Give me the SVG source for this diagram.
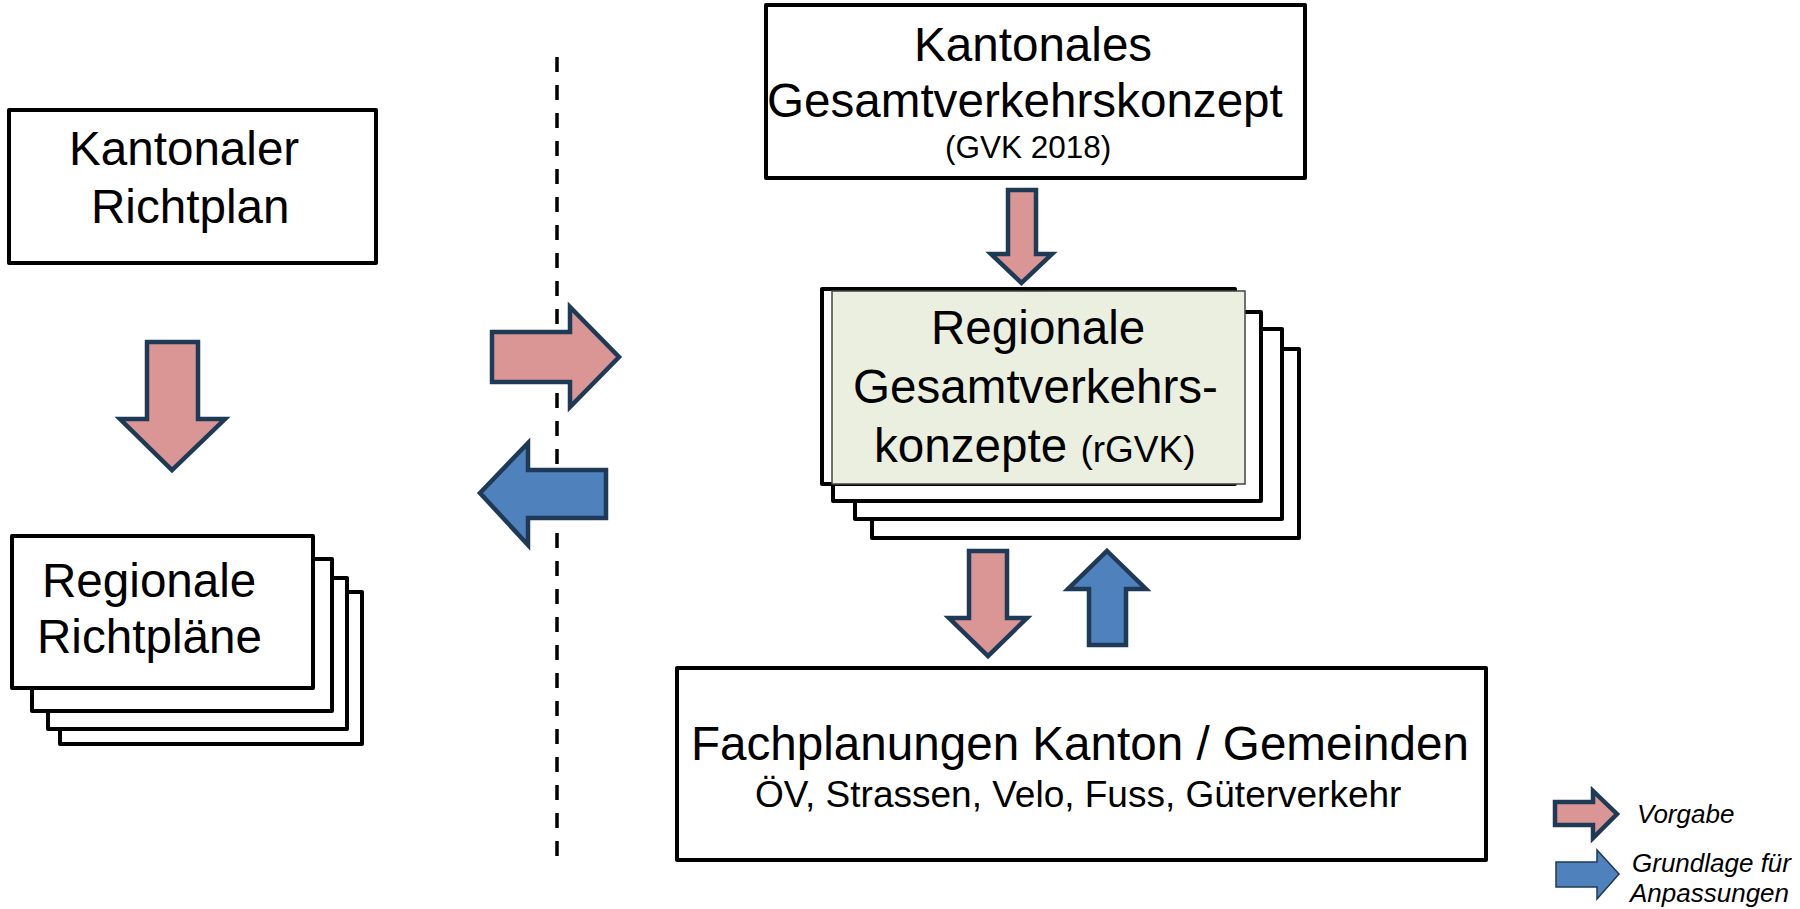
<svg xmlns="http://www.w3.org/2000/svg" width="1800" height="909" viewBox="0 0 1800 909">
<defs>
<style>
.box{fill:#fff;stroke:#000;stroke-width:4;stroke-linejoin:round}
.t{font-family:"Liberation Sans",Arial,sans-serif;font-size:47.6px;fill:#000}
.s{font-family:"Liberation Sans",Arial,sans-serif;fill:#000}
.pink{fill:#D99694;stroke:#1F3A57;stroke-width:4.5;stroke-linejoin:miter}
.blue{fill:#4F81BD;stroke:#1F3A57;stroke-width:4.5;stroke-linejoin:miter}
.leg{font-family:"Liberation Sans",Arial,sans-serif;font-size:26px;font-style:italic;fill:#000}
</style>
</defs>
<rect width="1800" height="909" fill="#fff"/>

<line x1="557" y1="57" x2="557" y2="859" stroke="#000" stroke-width="3.5" stroke-dasharray="15 13"/>

<g id="kantonaler-richtplan">
<rect class="box" x="9" y="110" width="367" height="153"/>
<text class="t" x="69" y="165">Kantonaler</text>
<text class="t" x="91" y="223">Richtplan</text>
</g>

<g id="regionale-richtplaene">
<rect class="box" x="60" y="592" width="302" height="152"/>
<rect class="box" x="48" y="578" width="299" height="151"/>
<rect class="box" x="32" y="559" width="300" height="152"/>
<rect class="box" x="12" y="536" width="301" height="152"/>
<text class="t" x="42" y="597">Regionale</text>
<text class="t" x="37" y="653">Richtpläne</text>
</g>

<g id="kantonales-gvk">
<rect class="box" x="766" y="5" width="539" height="173"/>
<text class="t" x="914" y="61">Kantonales</text>
<text class="t" x="767" y="117">Gesamtverkehrskonzept</text>
<text class="s" x="945" y="158" font-size="31.5">(GVK 2018)</text>
</g>

<g id="regionale-gvk">
<rect class="box" x="872" y="349" width="427" height="189"/>
<rect class="box" x="855" y="329" width="427" height="190"/>
<rect class="box" x="833" y="312" width="428" height="189"/>
<rect class="box" x="822" y="289" width="413" height="195"/>
<rect x="832" y="291" width="413" height="193" fill="#EBEFDF" stroke="#444" stroke-width="1.5"/>
<text class="t" x="931" y="344">Regionale</text>
<text class="t" x="853" y="403">Gesamtverkehrs-</text>
<text class="t" x="874" y="462">konzepte <tspan font-size="37">(rGVK)</tspan></text>
</g>

<g id="fachplanungen">
<rect class="box" x="677" y="668" width="809" height="192"/>
<text class="t" x="691" y="760">Fachplanungen Kanton / Gemeinden</text>
<text class="s" x="755" y="807" font-size="37">ÖV, Strassen, Velo, Fuss, Güterverkehr</text>
</g>

<g id="connectors">
<polygon class="pink" points="147,342 198,342 198,419 225,419 172,470 120,419 147,419"/>
<polygon class="pink" points="492,332 570,332 570,307 619,357 570,407 570,382 492,382"/>
<polygon class="blue" points="606,470 528,470 528,443 480,493 528,545 528,518 606,518"/>
<polygon class="pink" points="1008,190 1036,190 1036,254 1052,254 1021.5,283 991,254 1008,254"/>
<polygon class="pink" points="969,551 1007,551 1007,618 1027,618 988,656 949,618 969,618"/>
<polygon class="blue" points="1107,551 1146,589 1126,589 1126,645 1089,645 1089,589 1068,589"/>
</g>

<g id="legend">
<polygon class="pink" points="1555,802 1593,802 1593,791 1617,814 1593,838 1593,825 1555,825" stroke-width="4"/>
<text class="leg" x="1637" y="823">Vorgabe</text>
<polygon points="1556,862 1597,862 1597,850 1619,874 1597,899 1597,887 1556,887" fill="#4F81BD" stroke="#1F3A57" stroke-width="1.5"/>
<text class="leg" x="1632" y="872">Grundlage für</text>
<text class="leg" x="1630" y="902">Anpassungen</text>
</g>
</svg>
